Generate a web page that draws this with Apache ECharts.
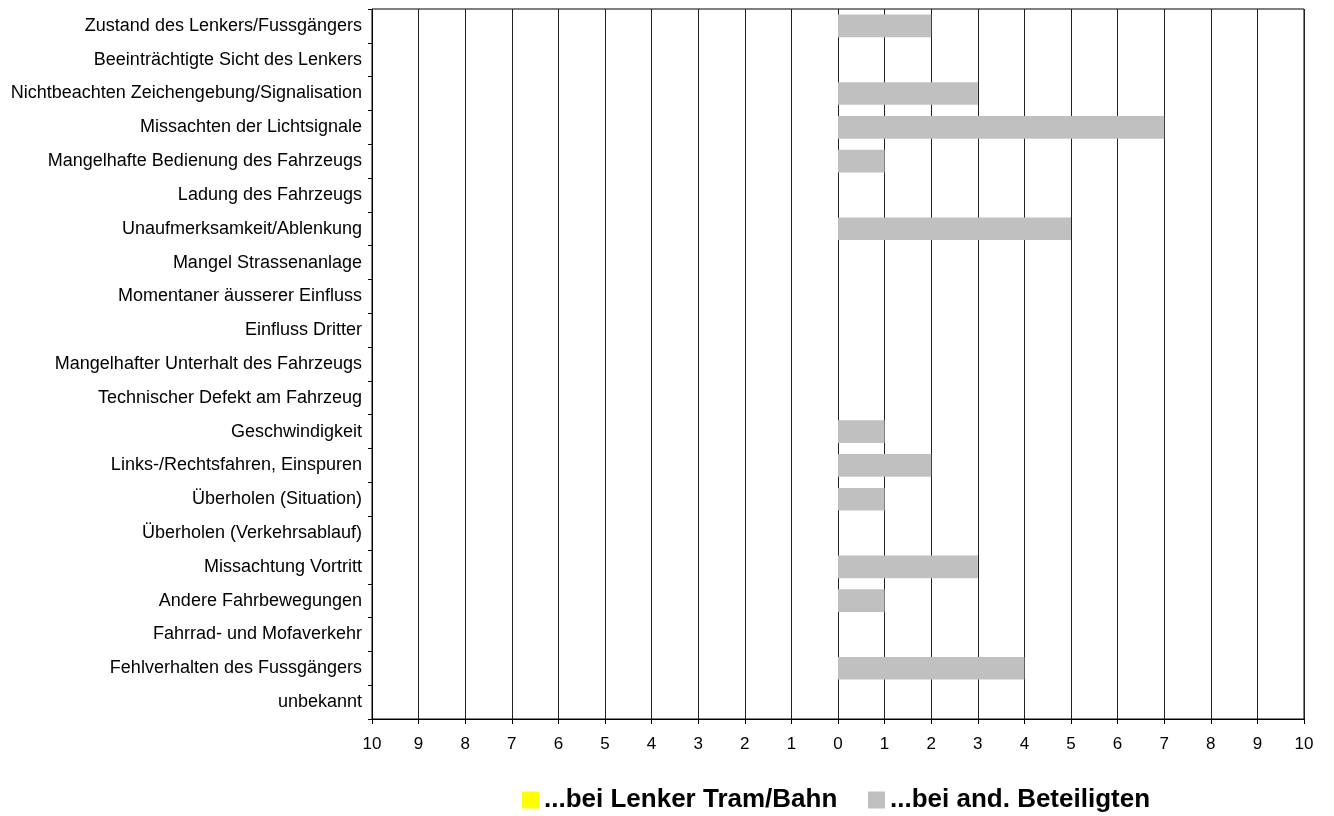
<!DOCTYPE html>
<html>
<head>
<meta charset="utf-8">
<script src="https://cdn.jsdelivr.net/npm/echarts@6/dist/echarts.min.js"></script>
<style>
  html, body { margin: 0; padding: 0; background: #fff; }
  #chart { width: 1334px; height: 816px; }
</style>
</head>
<body>
<div id="chart"></div>
<script>
// Unfallursachen: Lenker Tram/Bahn (links) vs. andere Beteiligte (rechts)
const categories = [
  'Zustand des Lenkers/Fussgängers',
  'Beeinträchtigte Sicht des Lenkers',
  'Nichtbeachten Zeichengebung/Signalisation',
  'Missachten der Lichtsignale',
  'Mangelhafte Bedienung des Fahrzeugs',
  'Ladung des Fahrzeugs',
  'Unaufmerksamkeit/Ablenkung',
  'Mangel Strassenanlage',
  'Momentaner äusserer Einfluss',
  'Einfluss Dritter',
  'Mangelhafter Unterhalt des Fahrzeugs',
  'Technischer Defekt am Fahrzeug',
  'Geschwindigkeit',
  'Links-/Rechtsfahren, Einspuren',
  'Überholen (Situation)',
  'Überholen (Verkehrsablauf)',
  'Missachtung Vortritt',
  'Andere Fahrbewegungen',
  'Fahrrad- und Mofaverkehr',
  'Fehlverhalten des Fussgängers',
  'unbekannt'
];
const lenkerTram = [0, 0, 0, 0, 0, 0, 0, 0, 0, 0, 0, 0, 0, 0, 0, 0, 0, 0, 0, 0, 0];
const andereBeteiligte = [2, 0, 3, 7, 1, 0, 5, 0, 0, 0, 0, 0, 1, 2, 1, 0, 3, 1, 0, 4, 0];
const seriesNames = ['...bei Lenker Tram/Bahn', '...bei and. Beteiligten'];

const font = 'Arial, "Liberation Sans", sans-serif';
const legendText = { fontFamily: font, fontSize: 26, fontWeight: 'bold', color: '#000', lineHeight: 26 };

const chart = echarts.init(document.getElementById('chart'));
chart.setOption({
  animation: false,
  backgroundColor: '#fff',
  grid: {
    left: 372, right: 30, top: 9, bottom: 97,
    show: true, borderColor: '#000', borderWidth: 1, backgroundColor: 'transparent'
  },
  // one legend block per series so each item sits at its own place
  legend: [
    {
      left: 522, top: 787, padding: 0,
      icon: 'rect', itemWidth: 17, itemHeight: 17, itemGap: 8,
      textStyle: legendText,
      data: [seriesNames[0]]
    },
    {
      left: 868, top: 787, padding: 0,
      icon: 'rect', itemWidth: 17, itemHeight: 17, itemGap: 8,
      textStyle: legendText,
      data: [seriesNames[1]]
    }
  ],
  xAxis: {
    type: 'value',
    min: -10, max: 10, interval: 1,
    axisLine: { show: true, onZero: false, lineStyle: { color: '#000', width: 1 } },
    axisTick: { show: true, length: 5, lineStyle: { color: '#000' } },
    axisLabel: {
      fontFamily: font, fontSize: 17, color: '#000', margin: 17,
      formatter: v => String(Math.abs(v))
    },
    splitLine: { show: true, lineStyle: { color: '#222', width: 1 } }
  },
  yAxis: {
    type: 'category',
    inverse: true,
    data: categories,
    axisLine: { show: true, onZero: false, lineStyle: { color: '#000', width: 1 } },
    axisTick: { show: true, length: 4, lineStyle: { color: '#000' } },
    axisLabel: { fontFamily: font, fontSize: 18, color: '#000', margin: 10 },
    splitLine: { show: false }
  },
  series: [
    {
      name: seriesNames[0],
      type: 'bar',
      z: 5,
      data: lenkerTram.map(v => -v),
      barWidth: '67%',
      barGap: '-100%',
      itemStyle: { color: '#ffff00' }
    },
    {
      name: seriesNames[1],
      type: 'bar',
      z: 5,
      data: andereBeteiligte,
      barWidth: '67%',
      barGap: '-100%',
      itemStyle: { color: '#c0c0c0' }
    }
  ]
});
</script>
</body>
</html>
